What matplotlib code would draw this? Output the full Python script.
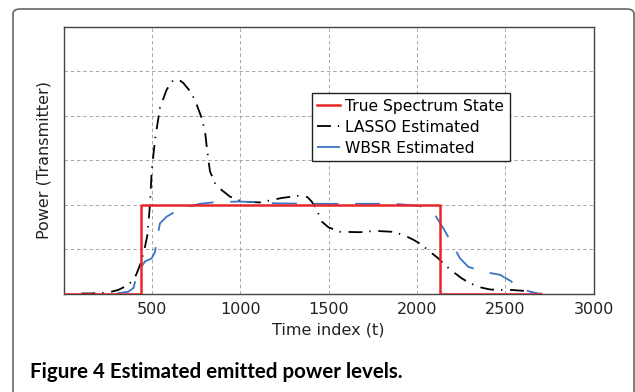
import numpy as np
import matplotlib
matplotlib.use("Agg")
import matplotlib.pyplot as plt
from matplotlib.patches import FancyBboxPatch

plt.rcParams["lines.scale_dashes"] = False

# =========================================================
# Data
# =========================================================
true_t = [0, 440, 440, 2130, 2130, 2700]
true_p = [0, 0, 2, 2, 0, 0]

lasso_t = [100, 150, 250, 309, 360, 385, 410, 432, 455, 474, 489, 498, 517,
           545, 583, 621, 650, 677, 710, 743, 781, 800, 810, 828, 857, 894,
           942, 1008, 1111, 1234, 1329, 1380, 1404, 1433, 1461, 1499, 1565,
           1678, 1763, 1857, 1923, 1980, 2018, 2074, 2121, 2159, 2197, 2254,
           2301, 2357, 2414, 2480, 2537, 2603, 2659, 2700]
lasso_p = [0.0, 0.0, 0.02, 0.08, 0.18, 0.27, 0.42, 0.64, 0.95, 1.32, 2.03,
           2.75, 3.46, 4.18, 4.59, 4.81, 4.82, 4.74, 4.58, 4.36, 3.95, 3.65,
           3.30, 2.75, 2.48, 2.33, 2.18, 2.07, 2.05, 2.15, 2.20, 2.17, 2.07,
           1.88, 1.62, 1.49, 1.39, 1.38, 1.41, 1.39, 1.32, 1.21, 1.12, 0.94,
           0.79, 0.64, 0.51, 0.34, 0.23, 0.14, 0.09, 0.08, 0.08, 0.06, 0.03,
           0.0]

wbsr_t = [300, 366, 394, 413, 440, 460, 498, 517, 527, 545, 583, 630, 687,
          772, 866, 998, 1111, 1200, 1400, 1600, 1800, 1900, 2018, 2046,
          2102, 2149, 2197, 2244, 2291, 2376, 2471, 2527, 2570, 2603, 2650,
          2688]
wbsr_p = [0.0, 0.04, 0.12, 0.38, 0.60, 0.72, 0.79, 0.94, 1.21, 1.58, 1.73,
          1.84, 1.94, 2.02, 2.06, 2.07, 2.05, 2.03, 2.02, 2.02, 2.02, 2.01,
          1.97, 1.90, 1.77, 1.47, 1.13, 0.79, 0.60, 0.49, 0.42, 0.29, 0.17,
          0.09, 0.03, 0.0]

x_ticks = [500, 1000, 1500, 2000, 2500, 3000]

# =========================================================
# Figure
# =========================================================
fig = plt.figure(figsize=(6.35, 3.92), dpi=100)

# rounded journal frame
frame = FancyBboxPatch((13 / 635, -0.2), (634 - 13) / 635, 1.2 - 9 / 392,
                       boxstyle="round,pad=0,rounding_size=0.012",
                       transform=fig.transFigure, facecolor="none",
                       edgecolor="#666666", linewidth=1.2, zorder=0)
fig.patches.append(frame)

ax = fig.add_axes([63.7 / 635, 1 - 293.5 / 392, 529.9 / 635, 266.5 / 392])

ax.plot(true_t, true_p, color="#e8262a", linewidth=1.8,
        label="True Spectrum State", zorder=4)
ax.plot(lasso_t, lasso_p, color="black", linewidth=1.3,
        linestyle=(0, (10, 5, 1, 5.5)), label="LASSO Estimated", zorder=3)
ax.plot(wbsr_t, wbsr_p, color="#3a75c4", linewidth=1.3,
        linestyle=(0, (18, 12)), label="WBSR Estimated", zorder=3)

ax.set_xlim(0, 3000)
ax.set_ylim(0, 6)
ax.set_xticks(x_ticks)
ax.set_yticks(np.arange(0, 7, 1))
ax.set_yticklabels([])
ax.tick_params(length=0, labelsize=11.5, colors="#222222")
ax.tick_params(axis="x", pad=6)
ax.tick_params(axis="y", pad=0)
ax.grid(True, color="#999999", linestyle=(0, (2.5, 2)), linewidth=0.6)

for s in ax.spines.values():
    s.set_color("#444444")
    s.set_linewidth(1.0)

ax.set_xlabel("Time index (t)", fontsize=11.5, color="#222222", labelpad=4)
ax.set_ylabel("Power (Transmitter)", fontsize=11.5, color="#222222", labelpad=9)

leg = ax.legend(loc="upper left", bbox_to_anchor=(0.468, 0.751),
                borderaxespad=0, fontsize=11.2, handlelength=1.5,
                handletextpad=0.3, labelspacing=0.38, borderpad=0.35,
                fancybox=False, framealpha=1)
leg.get_frame().set_edgecolor("#222222")
leg.get_frame().set_linewidth(1.0)

fig.text(30 / 635, 1 - 372 / 392, "Figure 4 Estimated emitted power levels.",
         fontsize=14.8, fontweight="bold", family="Lato", va="center",
         ha="left", color="black")

fig.savefig("out.png", dpi=100)
